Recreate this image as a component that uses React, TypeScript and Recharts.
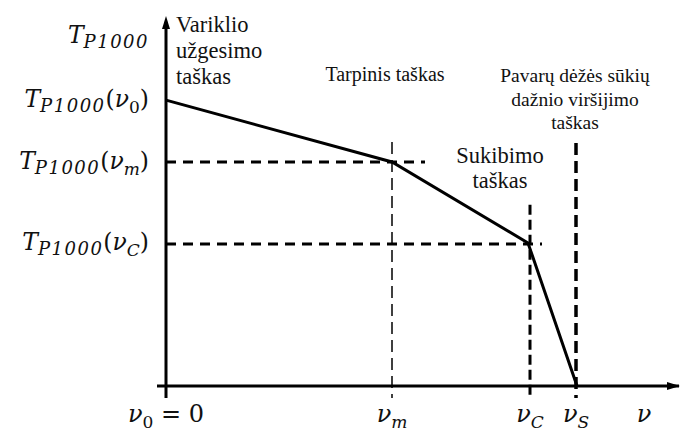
import React from 'react';
import { LineChart, Line, XAxis, YAxis, ReferenceLine, ReferenceDot } from 'recharts';

// speed v (x) and traction force T_P1000 (y), arbitrary units
const speed = [0, 45.2, 72.4, 82.2];
const thrust = [78.1, 61.2, 39.1, 0];

const vm = 45.2;
const vc = 72.8;
const vs = 82;

const xTicks = [0, vm, vc, vs, 95.6];
const xTickSubs = ['0', 'm', 'C', 'S', ''];
const xTickTails = [' = 0', '', '', '', ''];

const yTicks = [95.5, 78.1, 61.2, 39.1];
const yTickArgs = ['', '0', 'm', 'C'];

const data = speed.map((v, i) => ({ v, T: thrust[i] }));

const MATH = 'DejaVu Serif';
const TEXT = 'Liberation Serif';
const INK = '#111';

const YTick = (props: any) => {
  const { y, payload } = props;
  const i = yTicks.indexOf(payload.value);
  const arg = yTickArgs[i];
  return (
    <text x={149} y={y + 7} textAnchor="end" fontFamily={MATH} fontSize={23.5} fill={INK}>
      <tspan fontStyle="italic">T</tspan>
      <tspan dy={5} fontSize={18} fontStyle="italic" letterSpacing={1.5}>P1000</tspan>
      {arg !== '' && (
        <>
          <tspan dy={-5}>(</tspan>
          <tspan fontStyle="italic">ν</tspan>
          <tspan dy={6} fontSize={17} fontStyle={arg === '0' ? 'normal' : 'italic'}>{arg}</tspan>
          <tspan dy={-6}>)</tspan>
        </>
      )}
    </text>
  );
};

const XTick = (props: any) => {
  const { x, payload } = props;
  const i = xTicks.indexOf(payload.value);
  const sub = xTickSubs[i];
  const tail = xTickTails[i];
  return (
    <text x={x} y={422} textAnchor="middle" fontFamily={MATH} fontSize={24} fill={INK}>
      <tspan fontStyle="italic">ν</tspan>
      {sub !== '' && (
        <tspan dy={6} fontSize={17} fontStyle={sub === '0' ? 'normal' : 'italic'}>{sub}</tspan>
      )}
      {tail !== '' && <tspan dy={-6}>{tail}</tspan>}
    </text>
  );
};

const UpArrow = (props: any) => {
  const { cx, cy } = props;
  return <path d={`M${cx},${cy - 4} L${cx - 4},${cy + 9} L${cx + 4},${cy + 9} Z`} fill="#000" />;
};

const RightArrow = (props: any) => {
  const { cx, cy } = props;
  return <path d={`M${cx + 14},${cy} L${cx + 1},${cy - 4} L${cx + 1},${cy + 4} Z`} fill="#000" />;
};

const Note = ({ x, y, size, anchor, children }: any) => (
  <text x={x} y={y} fontSize={size} textAnchor={anchor || 'start'} fill={INK} fontFamily={TEXT}>
    {children}
  </text>
);

export default function App() {
  return (
    <div style={{ position: 'absolute', left: 0, top: 0, width: 680, height: 433, background: '#fff' }}>
      <LineChart width={680} height={433} data={data} margin={{ top: 20, right: 14, bottom: 0, left: 0 }}>
        <XAxis
          dataKey="v"
          type="number"
          domain={[0, 100]}
          ticks={xTicks}
          interval={0}
          height={47}
          axisLine={false}
          tickLine={false}
          tick={<XTick />}
        />
        <YAxis
          type="number"
          domain={[0, 100]}
          ticks={yTicks}
          interval={0}
          width={166}
          axisLine={false}
          tickLine={false}
          tick={<YTick />}
        />
        {/* dashed guides */}
        <ReferenceLine segment={[{ x: 0, y: 61.2 }, { x: 51.8, y: 61.2 }]} stroke="#000" strokeWidth={3} strokeDasharray="10 7" ifOverflow="visible" />
        <ReferenceLine segment={[{ x: 0, y: 38.8 }, { x: 75.2, y: 38.8 }]} stroke="#000" strokeWidth={3} strokeDasharray="10 7" ifOverflow="visible" />
        <ReferenceLine segment={[{ x: vm, y: 66.7 }, { x: vm, y: -3.3 }]} stroke="#000" strokeWidth={1.5} strokeDasharray="12 6" ifOverflow="visible" />
        <ReferenceLine segment={[{ x: vc, y: 49.5 }, { x: vc, y: -3.3 }]} stroke="#000" strokeWidth={3} strokeDasharray="10 5" ifOverflow="visible" />
        <ReferenceLine segment={[{ x: vs, y: 66.4 }, { x: vs, y: -3.3 }]} stroke="#000" strokeWidth={3.5} strokeDasharray="12 6" ifOverflow="visible" />
        {/* axes */}
        <ReferenceLine segment={[{ x: -1.8, y: 0 }, { x: 102.6, y: 0 }]} stroke="#000" strokeWidth={3} ifOverflow="visible" />
        <ReferenceLine segment={[{ x: 0, y: -3.3 }, { x: 0, y: 98 }]} stroke="#000" strokeWidth={3} ifOverflow="visible" />
        <ReferenceDot x={0} y={100} r={1} shape={<UpArrow />} ifOverflow="visible" />
        <ReferenceDot x={100} y={0} r={1} shape={<RightArrow />} ifOverflow="visible" />
        <Line dataKey="T" stroke="#000" strokeWidth={3} dot={false} isAnimationActive={false} />
      </LineChart>
      <svg width={680} height={433} style={{ position: 'absolute', left: 0, top: 0, pointerEvents: 'none' }}>
        <Note x={176} y={32} size={22.5}>Variklio</Note>
        <Note x={176} y={58} size={22.5}>užgesimo</Note>
        <Note x={176} y={84} size={22.5}>taškas</Note>
        <Note x={385} y={81} size={20} anchor="middle">Tarpinis taškas</Note>
        <Note x={575} y={82} size={19.5} anchor="middle">Pavarų dėžės sūkių</Note>
        <Note x={575} y={106} size={19.5} anchor="middle">dažnio viršijimo</Note>
        <Note x={575} y={129} size={19.5} anchor="middle">taškas</Note>
        <Note x={500} y={163} size={22.5} anchor="middle">Sukibimo</Note>
        <Note x={500} y={188} size={22.5} anchor="middle">taškas</Note>
      </svg>
    </div>
  );
}
